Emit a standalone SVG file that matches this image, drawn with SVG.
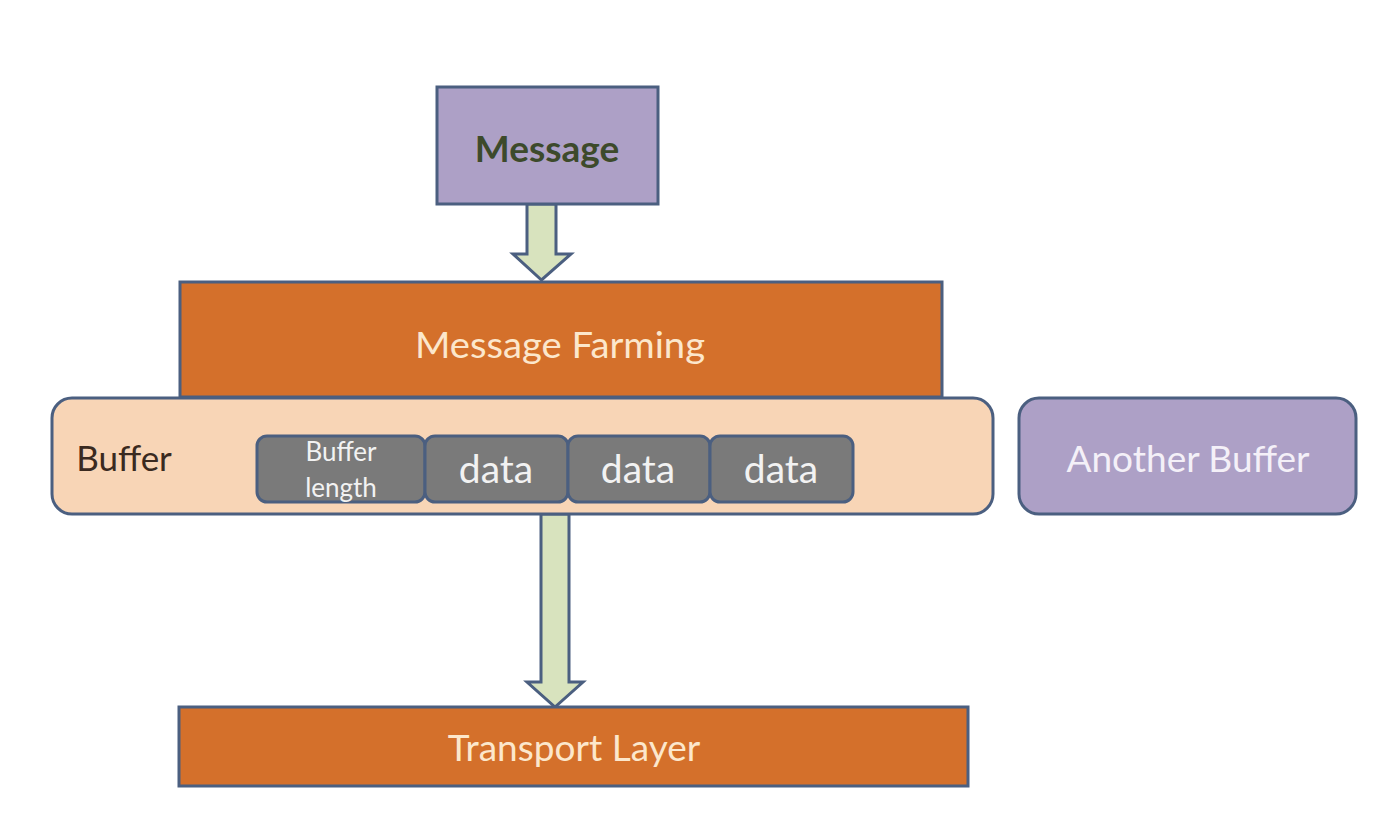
<svg xmlns="http://www.w3.org/2000/svg" width="1374" height="820" viewBox="0 0 1374 820">
<style>
text{font-family:Lato,"Open Sans","Liberation Sans",sans-serif;text-anchor:middle;dominant-baseline:central}
.ln{stroke:#4B5F80;stroke-width:3}
.orange{fill:#D4702B}
.purple{fill:#ADA0C6}
.peach{fill:#F8D5B6}
.gray{fill:#7A7A7A}
.arrow{fill:#D8E3BE;stroke:#4B5F80;stroke-width:3;stroke-linejoin:miter}
.lt{fill:#FCE7CC;font-size:37px}
.wt{fill:#F2F2F2}
</style>
<rect width="1374" height="820" fill="#FFFFFF"/>
<g id="connectors">
<polygon class="arrow" points="527,204 556,204 556,254 571,254 541.5,280 513,254 527,254"/>
<polygon class="arrow" points="541,514 569,514 569,682 583,682 555,707 527,682 541,682"/>
</g>
<g id="message">
<rect class="purple ln" x="437" y="87" width="221" height="117"/>
<text x="547" y="147" style="font-size:37px;font-weight:bold;fill:#3D4A2B">Message</text>
</g>
<g id="message-farming">
<rect class="orange ln" x="180" y="282" width="762" height="115"/>
<text class="lt" x="560" y="343" textLength="290" lengthAdjust="spacingAndGlyphs">Message Farming</text>
</g>
<g id="buffer">
<rect class="peach ln" x="52" y="398" width="941" height="116" rx="20"/>
<text x="124" y="457" style="font-size:35px;fill:#3A2A20">Buffer</text>
</g>
<g id="buffer-length">
<rect class="gray ln" x="257" y="436" width="168" height="66" rx="10"/>
<text class="wt" x="341" y="451" style="font-size:26px">Buffer</text>
<text class="wt" x="341" y="487" style="font-size:26px">length</text>
</g>
<g id="data-1">
<rect class="gray ln" x="425" y="436" width="143" height="66" rx="10"/>
<text class="wt" x="496" y="468" style="font-size:39px">data</text>
</g>
<g id="data-2">
<rect class="gray ln" x="568" y="436" width="142" height="66" rx="10"/>
<text class="wt" x="638" y="468" style="font-size:39px">data</text>
</g>
<g id="data-3">
<rect class="gray ln" x="710" y="436" width="143" height="66" rx="10"/>
<text class="wt" x="781" y="468" style="font-size:39px">data</text>
</g>
<g id="another-buffer">
<rect class="purple ln" x="1019" y="398" width="337" height="116" rx="20"/>
<text x="1188" y="457" style="font-size:37px;fill:#F4F0F8">Another Buffer</text>
</g>
<g id="transport-layer">
<rect class="orange ln" x="179" y="707" width="789" height="79"/>
<text class="lt" x="574" y="746">Transport Layer</text>
</g>
</svg>
